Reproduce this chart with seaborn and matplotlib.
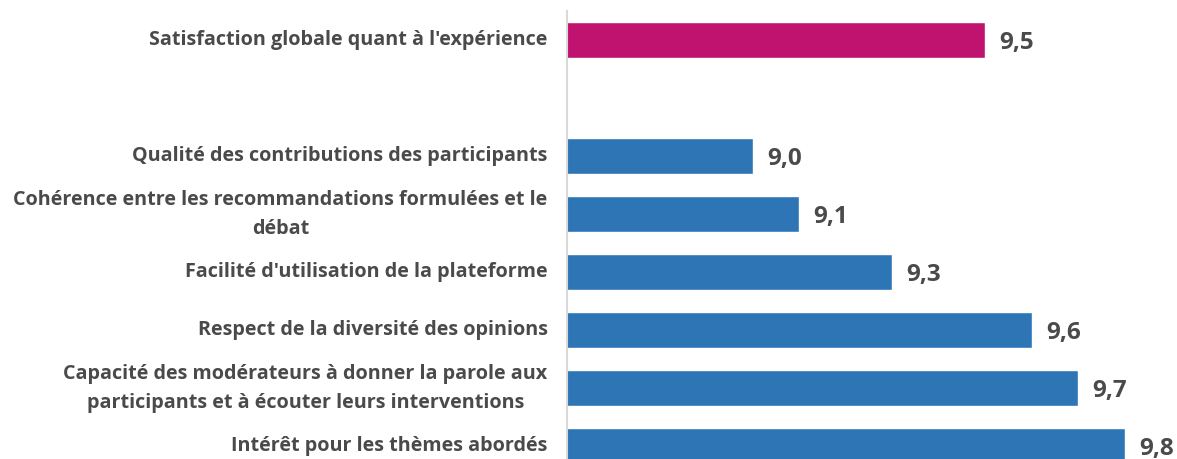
import matplotlib
matplotlib.use("Agg")
import matplotlib.pyplot as plt
import seaborn as sns
import pandas as pd
import numpy as np

categories = [
    "Satisfaction globale quant à l'expérience",
    " ",
    "Qualité des contributions des participants",
    "Cohérence entre les recommandations formulées et le\ndébat",
    "Facilité d'utilisation de la plateforme",
    "Respect de la diversité des opinions",
    "Capacité des modérateurs à donner la parole aux\nparticipants et à écouter leurs interventions",
    "Intérêt pour les thèmes abordés",
]
values = [9.5, np.nan, 9.0, 9.1, 9.3, 9.6, 9.7, 9.8]
groups = ["global", "gap", "detail", "detail", "detail", "detail", "detail", "detail"]

df = pd.DataFrame({"label": categories, "note": values, "group": groups})

sns.set_style("white")
plt.rcParams["font.family"] = ["Open Sans", "DejaVu Sans"]
text_color = "#4a4a4a"

fig = plt.figure(figsize=(11.77, 4.59), dpi=100)
ax = fig.add_axes([0.4817, -0.035, 1 - 0.4817, 1.011])

sns.barplot(data=df, y="label", x="note", hue="group",
            palette={"global": "#C0136F", "gap": "#ffffff", "detail": "#2E75B6"},
            order=categories, width=0.62, saturation=1, legend=False, ax=ax, orient="h")

ax.set_xlim(8.6, 8.6 + 610 / 465)
ax.set_ylim(len(categories) - 0.5, -0.5)
ax.set_xlabel("")
ax.set_ylabel("")
ax.set_xticks([])
for s in ["top", "right", "bottom"]:
    ax.spines[s].set_visible(False)
ax.spines["left"].set_color("#d9d9d9")
ax.spines["left"].set_linewidth(1.5)

ax.tick_params(axis="y", length=0, pad=14)
for t in ax.get_yticklabels():
    t.set_fontsize(14.2)
    t.set_fontweight("bold")
    t.set_color(text_color)
    t.set_multialignment("center")
    t.set_linespacing(1.6)
    t.set_verticalalignment("center")

for i, v in enumerate(values):
    if np.isnan(v):
        continue
    ax.annotate(f"{v:.1f}".replace(".", ","), xy=(v, i), xytext=(10, -2),
                textcoords="offset points", ha="left", va="center",
                fontsize=17.5, fontweight="bold", color=text_color)

fig.savefig("out.png", dpi=100)
